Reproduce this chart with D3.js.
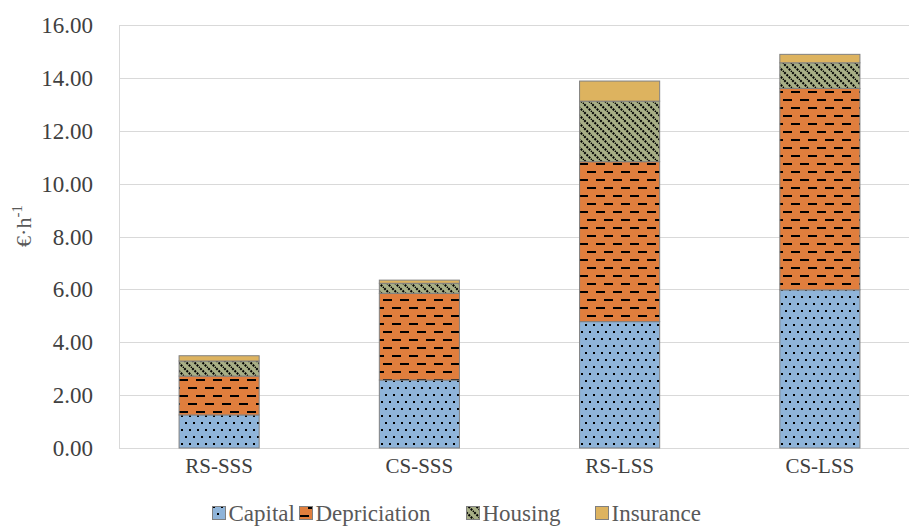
<!DOCTYPE html>
<html><head><meta charset="utf-8">
<script src="https://cdn.jsdelivr.net/npm/d3@7"></script>
<style>body{margin:0;background:#fff}svg{display:block}</style>
</head><body>
<script>
const categories = ["RS-SSS","CS-SSS","RS-LSS","CS-LSS"];
const capital      = [1.25, 2.57, 4.78, 5.98];
const depriciation = [1.47, 3.28, 6.05, 7.62];
const housing      = [0.57, 0.38, 2.29, 0.97];
const insurance    = [0.20, 0.12, 0.76, 0.32];
const seriesNames  = ["Capital","Depriciation","Housing","Insurance"];
const yTicks = [0,2,4,6,8,10,12,14,16];

const W=909,H=526;
const FONT="Liberation Serif";
const svg=d3.select("body").append("svg").attr("width",W).attr("height",H);
const defs=svg.append("defs");

// patterns
const pCap=defs.append("pattern").attr("id","pCap").attr("patternUnits","userSpaceOnUse").attr("width",8).attr("height",14);
pCap.append("rect").attr("width",8).attr("height",14).attr("fill","#8FB4D9");
pCap.append("rect").attr("x",1).attr("y",2).attr("width",2).attr("height",2).attr("fill","#000");
pCap.append("rect").attr("x",5).attr("y",9).attr("width",2).attr("height",2).attr("fill","#000");

const pDep=defs.append("pattern").attr("id","pDep").attr("patternUnits","userSpaceOnUse").attr("width",17).attr("height",16);
pDep.append("rect").attr("width",17).attr("height",16).attr("fill","#E07E3D");
pDep.append("rect").attr("x",1).attr("y",3).attr("width",9).attr("height",2).attr("fill","#000");
pDep.append("rect").attr("x",9).attr("y",11).attr("width",9).attr("height",2).attr("fill","#000");
pDep.append("rect").attr("x",-8).attr("y",11).attr("width",9).attr("height",2).attr("fill","#000");

const pHou=defs.append("pattern").attr("id","pHou").attr("patternUnits","userSpaceOnUse").attr("width",8).attr("height",8);
pHou.append("rect").attr("width",8).attr("height",8).attr("fill","#A8AF86");
pHou.append("path").attr("d","M-2,-2 L10,10 M-2,6 L2,10 M6,-2 L10,2").attr("stroke","#000").attr("stroke-width",2).attr("stroke-dasharray","2,1.2");

const fills=["url(#pCap)","url(#pDep)","url(#pHou)","#DDB35F"];

const x=d3.scaleBand().domain(categories).range([119,920]).paddingInner(0.6).paddingOuter(0.3);
const y=d3.scaleLinear().domain([0,16]).range([448,25]);

// gridlines
svg.append("g").selectAll("line").data(yTicks).join("line")
  .attr("x1",119).attr("x2",W).attr("y1",d=>Math.round(y(d))+0.5).attr("y2",d=>Math.round(y(d))+0.5)
  .attr("stroke","#D9D9D9").attr("stroke-width",1);
svg.append("line").attr("x1",119.5).attr("x2",119.5).attr("y1",Math.round(y(16))).attr("y2",Math.round(y(0))+0.5)
  .attr("stroke","#D9D9D9");

// y tick labels
svg.append("g").selectAll("text").data(yTicks).join("text")
  .attr("x",93).attr("y",d=>y(d)).attr("dy","0.35em").attr("text-anchor","end")
  .style("font-family",FONT).attr("font-size",23).attr("fill","#404040")
  .text(d=>d3.format(".2f")(d));

// y label
const yl=svg.append("text").attr("transform","translate(31,226) rotate(-90)").attr("text-anchor","middle")
  .style("font-family",FONT).attr("font-size",22).attr("fill","#595959");
yl.append("tspan").text("€·h");
yl.append("tspan").attr("font-size",15).attr("dy",-9).text("-1");

// stacks
const table=categories.map((c,i)=>({cat:c,Capital:capital[i],Depriciation:depriciation[i],Housing:housing[i],Insurance:insurance[i]}));
const stack=d3.stack().keys(seriesNames)(table);
svg.append("g").selectAll("g").data(stack).join("g")
  .attr("fill",(d,i)=>fills[i])
  .selectAll("rect").data(d=>d).join("rect")
  .attr("x",d=>x(d.data.cat)).attr("width",x.bandwidth())
  .attr("y",d=>y(d[1])).attr("height",d=>y(d[0])-y(d[1]))
  .attr("stroke","#808080").attr("stroke-width",1);

// category labels
svg.append("g").selectAll("text").data(categories).join("text")
  .attr("x",d=>x(d)+x.bandwidth()/2).attr("y",473).attr("text-anchor","middle")
  .style("font-family",FONT).attr("font-size",21).attr("fill","#404040").text(d=>d);

// legend
const legX=[212,299,466,595];
const lg=svg.append("g").selectAll("g").data(seriesNames).join("g")
  .attr("transform",(d,i)=>`translate(${legX[i]},0)`);
lg.append("rect").attr("x",0.5).attr("y",506.5).attr("width",13).attr("height",13)
  .attr("fill",(d,i)=>fills[i]).attr("stroke","#808080");
lg.append("text").attr("x",16.5).attr("y",521).style("font-family",FONT).attr("font-size",23)
  .attr("fill","#595959").text(d=>d);
</script>
</body></html>
